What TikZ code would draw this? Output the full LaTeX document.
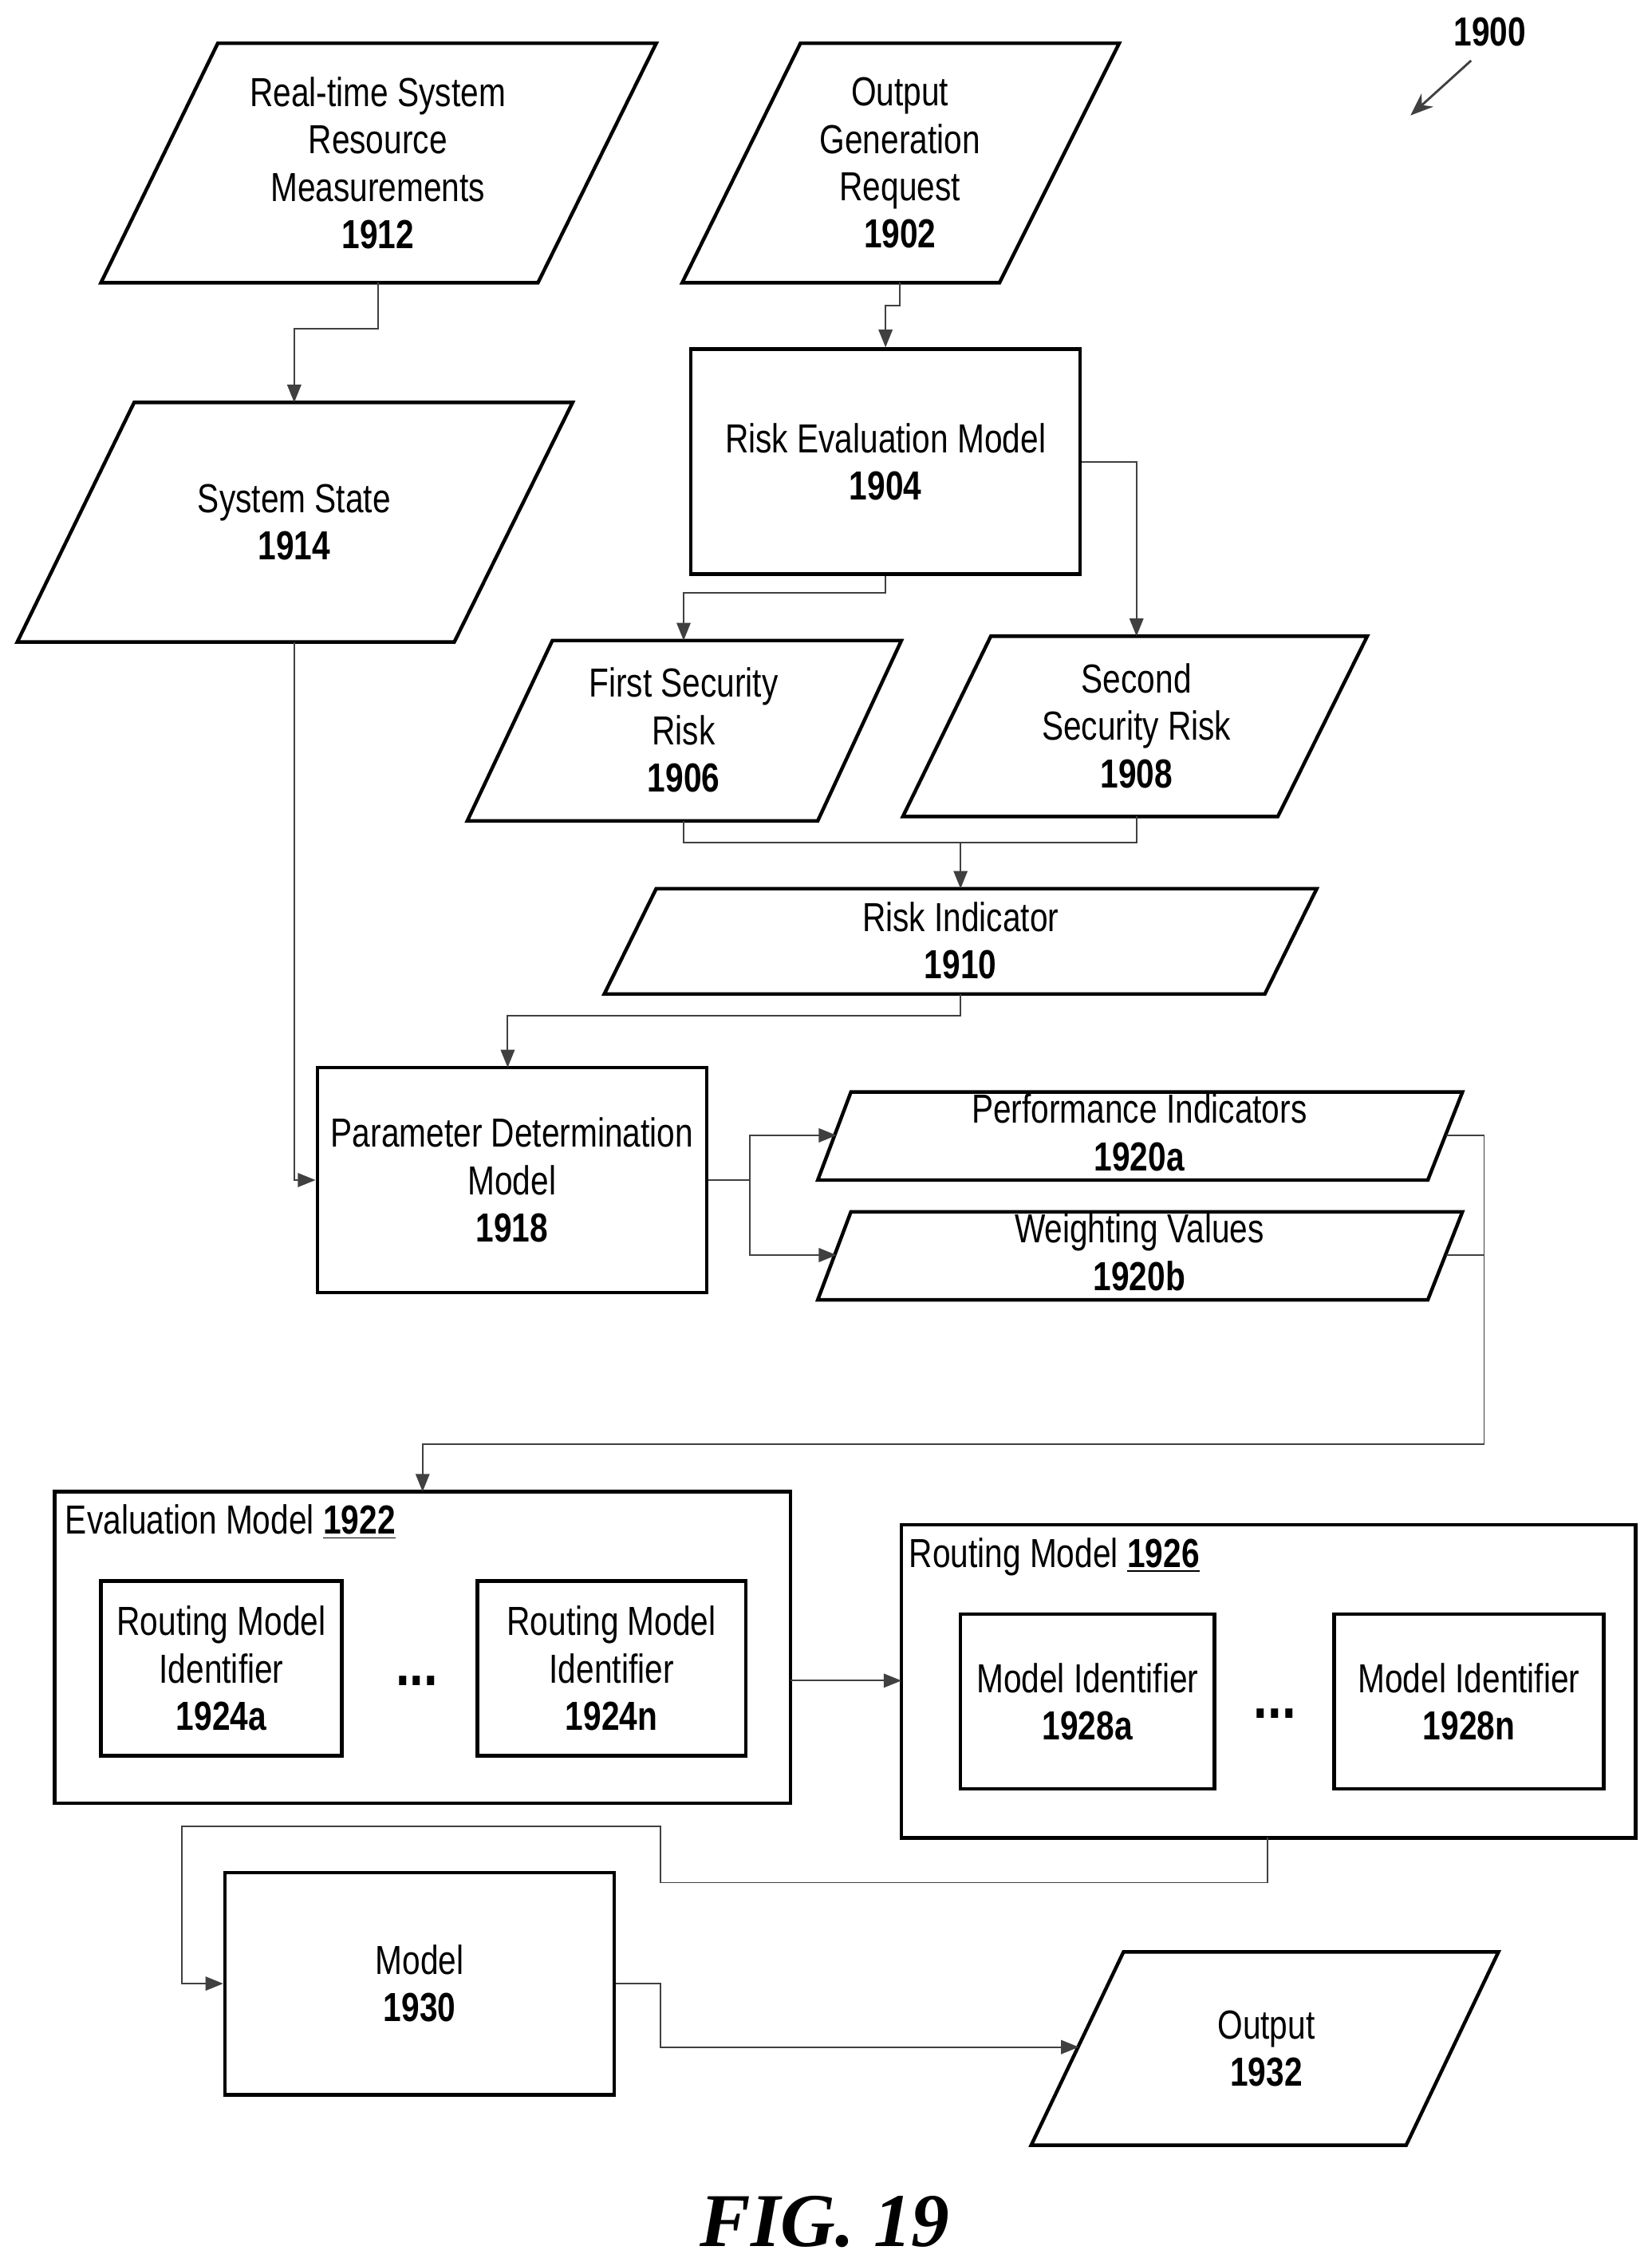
\documentclass[tikz,border=0pt]{standalone}
\usepackage{fontspec}
\setmainfont{Liberation Sans}[FakeStretch=0.8]
\newfontfamily\figfont{Liberation Serif}
\usetikzlibrary{arrows.meta}
\begin{document}
\begin{tikzpicture}[x=0.02cm,y=-0.02cm,
  shp/.style={draw,line width=1.4pt},
  txt/.style={align=center,font=\fontsize{16}{18.7}\selectfont},
  box/.style={shp,txt,anchor=north west,inner sep=0pt},
  con/.style={draw=black!75,line width=0.6pt},
  arr/.style={con,-{Triangle[length=7pt,width=5.5pt]}}]
\useasboundingbox (0,0) rectangle (1145,1568);
% parallelograms
\draw[shp] (151,30)--(455,30)--(373,196)--(70,196)--cycle;
\node[txt] (n1912) at (262,113) {Real-time System\\Resource\\Measurements\\\textbf{1912}};
\draw[shp] (555,30)--(776,30)--(693,196)--(473,196)--cycle;
\node[txt] (n1902) at (624,113) {Output\\Generation\\Request\\\textbf{1902}};
\draw[shp] (93,279)--(397,279)--(315,445)--(12,445)--cycle;
\node[txt] (n1914) at (204,362) {System State\\\textbf{1914}};
\node[shp,txt,minimum width=270*0.02cm,minimum height=156*0.02cm] (n1904) at (614,320) {Risk Evaluation Model\\\textbf{1904}};
\draw[shp] (383,444)--(625,444)--(567,569)--(324,569)--cycle;
\node[txt] (n1906) at (474,506) {First Security\\Risk\\\textbf{1906}};
\draw[shp] (687,441)--(948,441)--(886,566)--(626,566)--cycle;
\node[txt] (n1908) at (788,503) {Second\\Security Risk\\\textbf{1908}};
\draw[shp] (455,616)--(913,616)--(877,689)--(419,689)--cycle;
\node[txt] (n1910) at (666,652) {Risk Indicator\\\textbf{1910}};
\node[shp,txt,minimum width=270*0.02cm,minimum height=156*0.02cm] (n1918) at (355,818) {Parameter Determination\\Model\\\textbf{1918}};
\draw[shp] (590,757)--(1014,757)--(990,818)--(567,818)--cycle;
\node[txt] (n1920a) at (790,785) {Performance Indicators\\\textbf{1920a}};
\draw[shp] (590,840)--(1014,840)--(990,901)--(567,901)--cycle;
\node[txt] (n1920b) at (790,868) {Weighting Values\\\textbf{1920b}};
% evaluation model
\draw[shp] (38,1034) rectangle (548,1250);
\node[txt,anchor=west,inner sep=0pt] (l1922) at (45,1055) {Evaluation Model \textbf{\underline{1922}}};
\node[shp,txt,minimum width=167*0.02cm,minimum height=121*0.02cm] (n1924a) at (153.5,1156.5) {Routing Model\\Identifier\\\textbf{1924a}};
\node[shp,txt,minimum width=186*0.02cm,minimum height=121*0.02cm] (n1924n) at (424,1156.5) {Routing Model\\Identifier\\\textbf{1924n}};
\node[txt] (d1) at (289,1165) {\textbf{\Huge...}};
\draw[shp] (625,1057) rectangle (1134,1274);
\node[txt,anchor=west,inner sep=0pt] (l1926) at (630,1079) {Routing Model \textbf{\underline{1926}}};
\node[shp,txt,minimum width=176*0.02cm,minimum height=121*0.02cm] (n1928a) at (754,1179.5) {Model Identifier\\\textbf{1928a}};
\node[shp,txt,minimum width=187*0.02cm,minimum height=121*0.02cm] (n1928n) at (1018.5,1179.5) {Model Identifier\\\textbf{1928n}};
\node[txt] (d2) at (884,1188) {\textbf{\Huge...}};
\node[shp,txt,minimum width=270*0.02cm,minimum height=154*0.02cm] (n1930) at (291,1375) {Model\\\textbf{1930}};
\draw[shp] (779,1353)--(1039,1353)--(975,1487)--(715,1487)--cycle;
\node[txt] (n1932) at (878,1420) {Output\\\textbf{1932}};
% label
\node[txt] (n1900) at (1033,22) {\textbf{1900}};
\draw[con,-{Stealth[length=9pt,width=7pt]},line width=0.9pt] (1020,42) -- (978,80);
\node[font=\figfont\bfseries\itshape\fontsize{30}{34}\selectfont] (fig) at (572,1540) {FIG. 19};
% connectors
\coordinate (b1912) at (262,196); \coordinate (t1914) at (204,279);
\draw[arr] (b1912) |- (204,228) -- (t1914);
\coordinate (b1902) at (624,196);
\draw[arr] (b1902) |- (614,212) -- (n1904.north);
\coordinate (t1906) at (474,444); \coordinate (t1908) at (788,441);
\draw[arr] (n1904.south) |- (474,411) -- (t1906);
\draw[arr] (n1904.east) -| (t1908);
\coordinate (b1906) at (474,569); \coordinate (b1908) at (788,566); \coordinate (t1910) at (666,616);
\draw[con] (b1906) |- (666,584);
\draw[arr] (b1908) |- (666,584) -- (t1910);
\coordinate (b1910) at (666,689);
\draw[arr] (b1910) |- (352,704) -- (352,740);
\coordinate (b1914) at (204,445);
\draw[arr] (b1914) |- (n1918.west);
\coordinate (l1920a) at (580,787); \coordinate (l1920b) at (580,870);
\draw[arr] (n1918.east) -| (520,787) -- (l1920a);
\draw[arr] (n1918.east) -| (520,870) -- (l1920b);
\coordinate (r1920a) at (1003,787); \coordinate (r1920b) at (1003,870);
\draw[con] (r1920a) -| (1029,870);
\draw[arr] (r1920b) -| (1029,1001) -| (293,1034);
\draw[arr] (548,1165) -- (625,1165);
\draw[arr] (879,1274) |- (458,1305) |- (126,1266) |- (n1930.west);
\coordinate (l1932) at (748,1419);
\draw[arr] (n1930.east) -| (458,1419) -- (l1932);
\end{tikzpicture}
\end{document}
